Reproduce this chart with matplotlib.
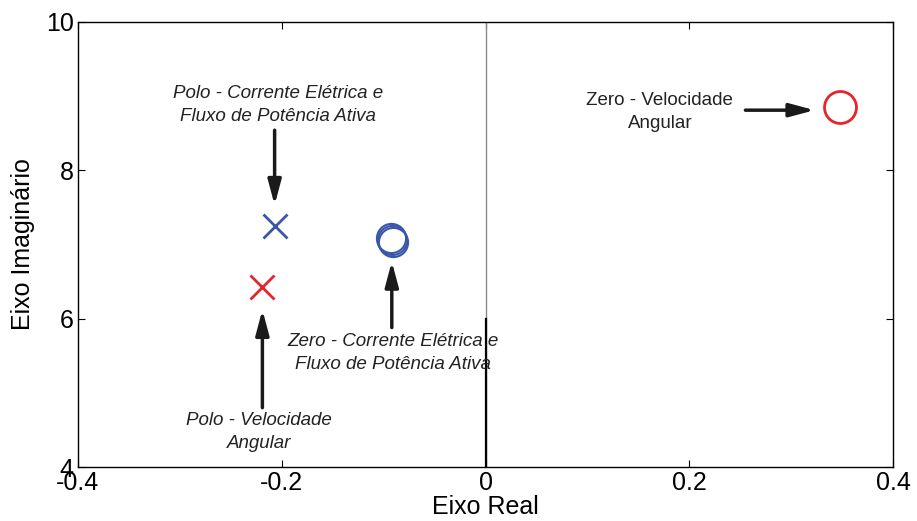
import matplotlib
matplotlib.use('Agg')
import matplotlib.pyplot as plt

plt.rcParams['font.family'] = ['Liberation Sans', 'DejaVu Sans']

# pole / zero locations
polo_corrente = [(-0.207, 7.25)]
polo_velocidade = [(-0.219, 6.42)]
zero_corrente = [(-0.093, 7.09), (-0.092, 7.06), (-0.091, 7.03)]
zero_velocidade = [(0.348, 8.855)]

blue = '#3a56aa'
red = '#e8242b'

fig = plt.figure(figsize=(9.17, 5.21), dpi=100)
ax = fig.add_axes([0.085, 0.1036, 0.889, 0.8544])

# imaginary axis line
ax.axvline(0, color='#888888', lw=1)
ax.axvline(0, ymin=0, ymax=1/3, color='black', lw=1.6)

for x, y in polo_corrente:
    ax.plot(x, y, 'x', color=blue, ms=17, mew=2)
for x, y in polo_velocidade:
    ax.plot(x, y, 'x', color=red, ms=17, mew=2)
for x, y in zero_corrente:
    ax.plot(x, y, 'o', mfc='none', mec=blue, ms=21, mew=1.5)
for x, y in zero_velocidade:
    ax.plot(x, y, 'o', mfc='none', mec=red, ms=23, mew=2)

arrow = dict(arrowstyle='-|>,head_length=0.75,head_width=0.2', lw=2.5, color='#1a1a1a',
             mutation_scale=20, shrinkA=0, shrinkB=0)
ax.annotate('', xy=(-0.207, 7.53), xytext=(-0.207, 8.54), arrowprops=arrow)
ax.annotate('', xy=(-0.092, 6.77), xytext=(-0.092, 5.88), arrowprops=arrow)
ax.annotate('', xy=(-0.219, 6.12), xytext=(-0.219, 4.80), arrowprops=arrow)
ax.annotate('', xy=(0.323, 8.81), xytext=(0.255, 8.81), arrowprops=arrow)

tkw = dict(fontsize=13.5, ha='center', va='center', color='#222222', linespacing=1.45)
ax.text(-0.2036, 8.88, 'Polo - Corrente Elétrica e\nFluxo de Potência Ativa', style='italic', **tkw)
ax.text(-0.0908, 5.54, 'Zero - Corrente Elétrica e\nFluxo de Potência Ativa', style='italic', **tkw)
ax.text(-0.222, 4.47, 'Polo - Velocidade\nAngular', style='italic', **tkw)
ax.text(0.171, 8.79, 'Zero - Velocidade\nAngular', **tkw)

ax.set_xlim(-0.4, 0.4)
ax.set_ylim(4, 10)
ax.set_xticks([-0.4, -0.2, 0, 0.2, 0.4])
ax.set_xticklabels(['-0.4', '-0.2', '0', '0.2', '0.4'])
ax.set_yticks([4, 6, 8, 10])
ax.tick_params(direction='in', length=5, labelsize=18, top=True, right=True, pad=3)
for s in ax.spines.values():
    s.set_linewidth(1)
ax.set_xlabel('Eixo Real', fontsize=18, labelpad=0)
ax.set_ylabel('Eixo Imaginário', fontsize=18, labelpad=8)

fig.savefig('out.png', dpi=100)
